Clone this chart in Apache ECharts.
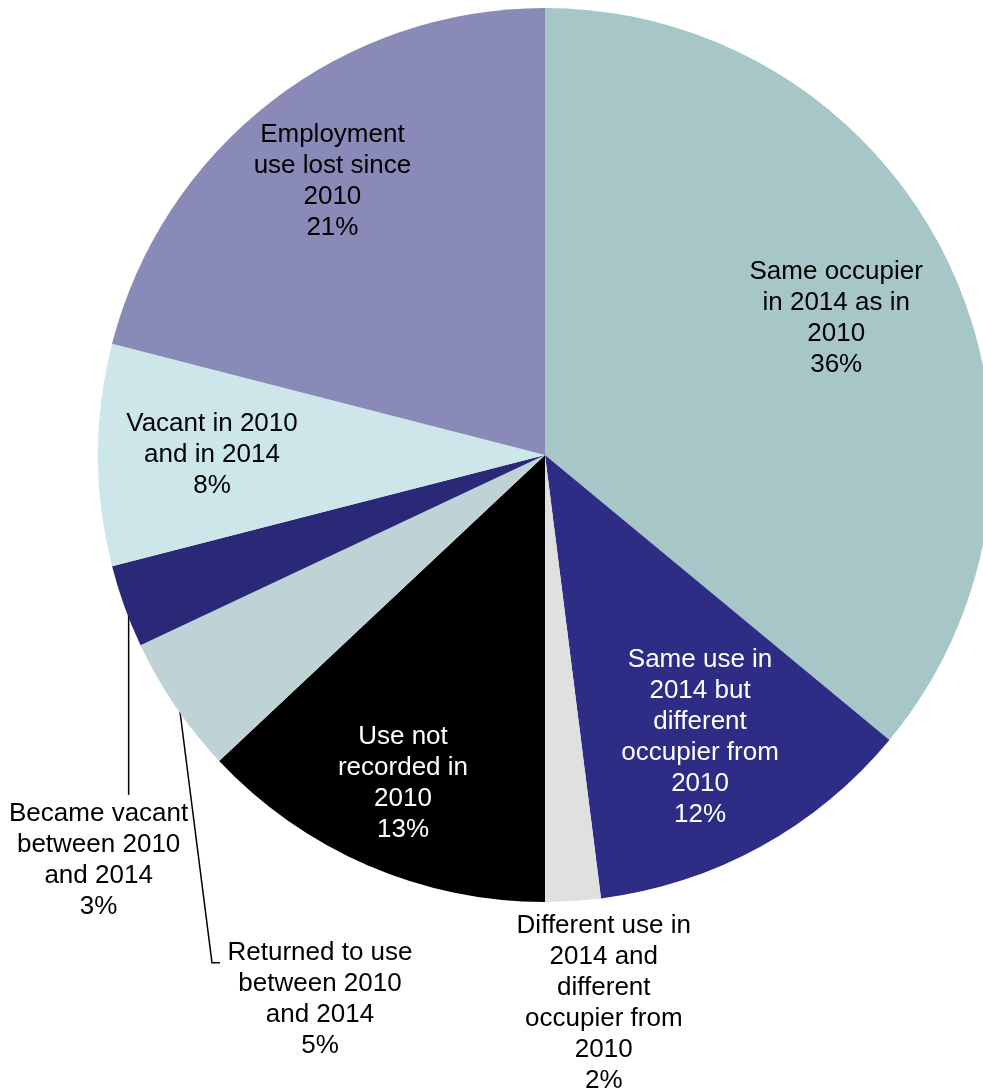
<!DOCTYPE html>
<html>
<head>
<meta charset="utf-8">
<script src="https://cdn.jsdelivr.net/npm/echarts@6/dist/echarts.min.js"></script>
<style>
  html, body { margin: 0; padding: 0; background: #ffffff; }
  #chart { width: 983px; height: 1091px; }
</style>
</head>
<body>
<div id="chart"></div>
<script>
// Employment sites: status in 2014 compared with 2010
const categories = [
  'Same occupier\nin 2014 as in\n2010',
  'Same use in\n2014 but\ndifferent\noccupier from\n2010',
  'Different use in\n2014 and\ndifferent\noccupier from\n2010',
  'Use not\nrecorded in\n2010',
  'Returned to use\nbetween 2010\nand 2014',
  'Became vacant\nbetween 2010\nand 2014',
  'Vacant in 2010\nand in 2014',
  'Employment\nuse lost since\n2010'
];
const shares = [36, 12, 2, 13, 5, 3, 8, 21];
const sliceColors = ['#a6c6c8', '#2d2d86', '#e0e0e0', '#000000', '#bfd3d6', '#292978', '#cce6ea', '#8a8ab8'];
const labelColors = ['#000000', '#ffffff', '#000000', '#ffffff', '#000000', '#000000', '#000000', '#000000'];

// Pie geometry (pixels)
const CX = 545, CY = 455, R = 447;

// Label placement: inside labels sit at a fraction of the radius on the slice's mid angle;
// outside labels are offset from the rim point, with an optional leader line (offsets from the rim point)
const placement = [
  { inside: 0.72 },
  { inside: 0.72 },
  { dx: 31, dy: 107 },
  { inside: 0.80 },
  { dx: 141, dy: 296, line: [[33, 259], [41, 259]] },
  { dx: -30, dy: 255, line: [[0, 190]] },
  { inside: 0.745 },
  { inside: 0.776 }
];

const total = shares.reduce((a, b) => a + b, 0);
function midAngle(i) {
  let cum = 0;
  for (let k = 0; k < i; k++) cum += shares[k];
  return 2 * Math.PI * (cum + shares[i] / 2) / total;
}
function pointAt(i, r) {
  const t = midAngle(i);
  return [CX + r * Math.sin(t), CY - r * Math.cos(t)];
}

const data = categories.map((name, i) => ({
  name: name,
  value: shares[i],
  itemStyle: { color: sliceColors[i] },
  label: {
    color: labelColors[i],
    position: placement[i].inside ? 'inside' : 'outside'
  },
  labelLine: { show: !!placement[i].line }
}));

const chart = echarts.init(document.getElementById('chart'), null, { renderer: 'canvas' });
chart.setOption({
  animation: false,
  series: [{
    type: 'pie',
    center: [CX, CY],
    radius: R,
    startAngle: 90,
    clockwise: true,
    avoidLabelOverlap: false,
    emphasis: { disabled: true },
    itemStyle: { borderWidth: 0 },
    label: {
      formatter: '{b}\n{c}%',
      fontFamily: 'Liberation Sans, Arial, sans-serif',
      fontSize: 26,
      lineHeight: 31,
      align: 'center'
    },
    labelLine: {
      lineStyle: { color: '#000000', width: 1.5 }
    },
    labelLayout: function (params) {
      const i = params.dataIndex;
      const p = placement[i];
      if (p.inside) {
        const pt = pointAt(i, R * p.inside);
        return { x: pt[0], y: pt[1], align: 'center', verticalAlign: 'middle' };
      }
      const rim = pointAt(i, R * 0.99);
      const out = { x: rim[0] + p.dx, y: rim[1] + p.dy, align: 'center', verticalAlign: 'middle' };
      if (p.line) {
        out.labelLinePoints = [rim].concat(p.line.map(o => [rim[0] + o[0], rim[1] + o[1]]));
      }
      return out;
    },
    data: data
  }]
});
</script>
</body>
</html>
